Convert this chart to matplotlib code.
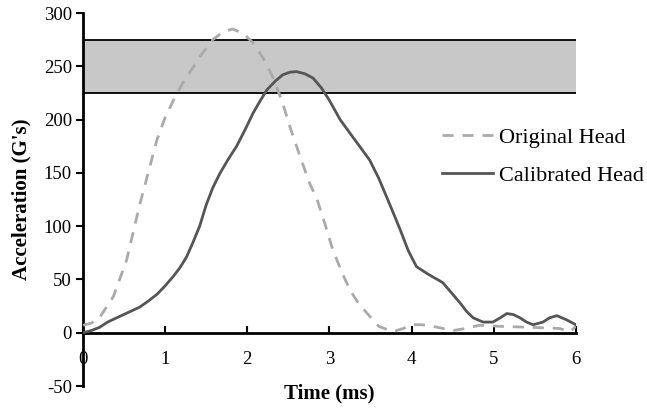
import numpy as np
import matplotlib
matplotlib.use("Agg")
import matplotlib.pyplot as plt

# values
time_orig = [0.0, 0.1, 0.2, 0.37, 0.53, 0.69, 0.8, 0.9, 1.0, 1.1, 1.22, 1.34,
             1.46, 1.58, 1.7, 1.82, 1.95, 2.07, 2.19, 2.31, 2.42, 2.52, 2.64,
             2.76, 2.85, 2.95, 3.04, 3.15, 3.25, 3.35, 3.45, 3.6, 3.77, 3.9,
             4.0, 4.13, 4.26, 4.38, 4.5, 4.66, 4.83, 5.07, 5.27, 5.47, 5.65,
             5.8, 5.93, 6.0]
accel_orig = [7, 9, 14, 34, 68, 120, 152, 181, 202, 218, 235, 249,
              263, 275, 282, 285, 281, 272, 258, 240, 218, 193, 166,
              140, 125, 101, 78, 57, 40, 28, 19, 6, 1, 4,
              7.5, 7.5, 6, 4, 2, 4, 7, 6, 5.5, 5, 4.5,
              4, 1, 6]

time_cal = [0.0, 0.1, 0.2, 0.3, 0.41, 0.55, 0.69, 0.8, 0.9, 1.0, 1.1, 1.18,
            1.26, 1.34, 1.42, 1.5, 1.58, 1.67, 1.77, 1.87, 1.97, 2.07,
            2.16, 2.24, 2.34, 2.43, 2.52, 2.6, 2.7, 2.8, 2.9, 3.0, 3.13, 3.3,
            3.49, 3.6, 3.71, 3.86, 3.96, 4.06, 4.2, 4.38, 4.48, 4.59, 4.67,
            4.75, 4.87, 4.99, 5.08, 5.16, 5.24, 5.32, 5.4, 5.48, 5.6, 5.68,
            5.77, 5.89, 6.0]
accel_cal = [0, 2, 5, 10, 14, 19, 24, 30, 36, 44, 53, 61,
             71, 85, 100, 120, 136, 150, 163, 175, 190, 206,
             218, 228, 236, 242, 244.5, 245, 243, 239, 230, 218, 200, 182,
             162, 145, 125, 97, 77, 62, 55, 47, 38, 28, 20,
             14, 10, 10, 14, 18, 17, 14, 10, 7.5, 10, 14,
             16, 12, 7.5]

band_low = 225
band_high = 275

plt.rcParams['font.family'] = ['Liberation Serif', 'DejaVu Serif']
plt.rcParams['axes.unicode_minus'] = False

fig = plt.figure(figsize=(6.47, 4.12), dpi=100)
ax = fig.add_axes([0.1283, 0.0631, 0.7617, 0.9053])

# target band
ax.fill_between([0, 6], band_low, band_high, facecolor='#c8c8c8',
                edgecolor='none', zorder=1)
ax.plot([0, 6], [band_high, band_high], color='black', lw=1.3, zorder=2)
ax.plot([0, 6], [band_low, band_low], color='black', lw=1.3, zorder=2)

ax.plot(time_orig, accel_orig, color='#aaaaaa', lw=2, dashes=(4, 3.2),
        label='Original Head', zorder=3)
ax.plot(time_cal, accel_cal, color='#555555', lw=2,
        solid_joinstyle='round', label='Calibrated Head', zorder=3)

ax.set_xlim(0, 6)
ax.set_ylim(-50, 300)
ax.set_xticks(range(0, 7))
ax.set_yticks(range(-50, 301, 50))

ax.spines['top'].set_visible(False)
ax.spines['right'].set_visible(False)
ax.spines['bottom'].set_position(('data', 0))
ax.spines['bottom'].set_linewidth(2)
ax.spines['left'].set_linewidth(2)

ax.tick_params(axis='x', direction='in', length=5, width=1.5,
               pad=13, labelsize=13.5)
ax.tick_params(axis='y', direction='out', length=5, width=1.5,
               pad=3, labelsize=13.5)

ax.set_xlabel('Time (ms)', fontsize=15, fontweight='bold')
ax.xaxis.label.set_va('center')
ax.xaxis.set_label_coords(0.5, -0.019)
ax.set_ylabel("Acceleration (G's)", fontsize=15, fontweight='bold')
ax.yaxis.label.set_va('center')
ax.yaxis.set_label_coords(-0.124, 0.5)

ax.legend(loc='upper left', bbox_to_anchor=(442 / 647, 1 - 127 / 412),
          bbox_transform=fig.transFigure, frameon=False, fontsize=16,
          handlelength=2.3, handletextpad=0.25, labelspacing=0.8,
          borderpad=0, borderaxespad=0)

fig.savefig('out.png', dpi=100)
